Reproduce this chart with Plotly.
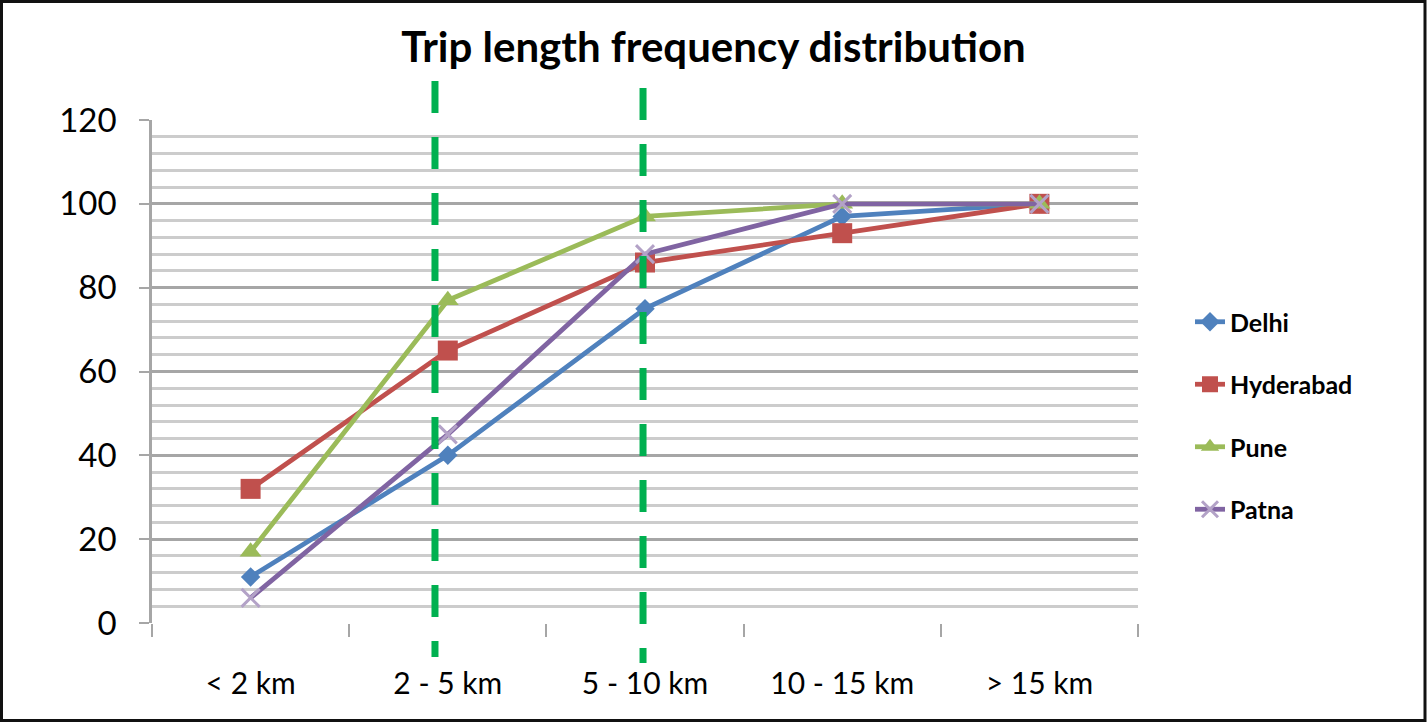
import plotly.graph_objects as go

categories = ["< 2 km", "2 - 5 km", "5 - 10 km", "10 - 15 km", "> 15 km"]
delhi = [11, 40, 75, 97, 100]
hyderabad = [32, 65, 86, 93, 100]
pune = [17, 77, 97, 100, 100]
patna = [6, 45, 88, 100, 100]
y_ticks = [0, 20, 40, 60, 80, 100, 120]
# positions of the green dashed separators, in category units
divider_positions = [0.935, 1.99]

W, H = 1427, 722
L, R, T, B = 152, 1427 - 1138, 120, 722 - 623
pw, ph = W - L - R, H - T - B

series = [
    ("Delhi", delhi, "#4F81BD", dict(symbol="diamond", size=15, color="#4F81BD")),
    ("Hyderabad", hyderabad, "#C0504D", dict(symbol="square", size=20, color="#C0504D")),
    ("Pune", pune, "#9BBB59", dict(symbol="triangle-up", size=19, color="#9BBB59")),
    ("Patna", patna, "#8064A2", dict(symbol="x-thin", size=18, color="#B3A2C7",
                                     line=dict(width=3, color="#B3A2C7"))),
]

fig = go.Figure()
for name, vals, col, mk in series:
    fig.add_trace(go.Scatter(
        x=categories, y=vals, name=name, mode="lines+markers",
        line=dict(color=col, width=4.8), marker=mk, legendgroup=name,
        cliponaxis=False,
    ))

divider_ends = [(81, 657), (88, 663)]  # pixel top/bottom of the dashed separators
shapes = []
for p, (top, bot) in zip(divider_positions, divider_ends):
    xd = (p + 0.5) / len(categories)
    shapes.append(dict(type="line", xref="x domain", yref="paper",
                       x0=xd, x1=xd, y0=(623 - top) / ph, y1=(623 - bot) / ph,
                       line=dict(color="#00B050", width=7, dash="32px,24px")))
# outer border
shapes.append(dict(type="rect", xref="paper", yref="paper",
                   x0=(1.5 - L) / pw, x1=(1425 - L) / pw,
                   y0=(623 - 720.5) / ph, y1=(623 - 1.5) / ph,
                   line=dict(color="#111111", width=3), layer="below"))

fig.update_layout(
    width=W, height=H,
    margin=dict(l=L, r=R, t=T, b=B),
    paper_bgcolor="white", plot_bgcolor="white",
    title=dict(text="<b>Trip length frequency distribution</b>", x=0.5, xref="container",
               xanchor="center", y=(722 - 47) / 722, yanchor="middle",
               font=dict(family="Lato", size=42, color="#000000")),
    font=dict(family="Lato", color="#000000"),
    showlegend=True,
    legend=dict(x=(1190 - L) / pw, xanchor="left", y=(623 - 299) / ph, yanchor="top",
                font=dict(size=25, color="#000000", weight="bold"), tracegroupgap=27,
                traceorder="grouped", bgcolor="rgba(0,0,0,0)"),
    shapes=shapes,
    xaxis=dict(type="category", range=[-0.5, len(categories) - 0.5],
               showgrid=False, tickson="boundaries", ticks="outside", ticklen=13,
               tickwidth=2, tickcolor="#A6A6A6", showline=False,
               tickfont=dict(size=30, color="#000000"), ticklabelstandoff=40,
               zeroline=False),
    yaxis=dict(range=[0, 120], tickvals=y_ticks, showgrid=True, gridcolor="#A6A6A6",
               gridwidth=2.5, ticks="outside", ticklen=10, tickwidth=2, tickcolor="#A6A6A6",
               showline=True, linecolor="#A6A6A6", linewidth=2.5,
               tickfont=dict(size=33, color="#000000"), ticklabelstandoff=16,
               zeroline=False,
               minor=dict(dtick=4, showgrid=True, gridcolor="#CCCCCC", gridwidth=2.5)),
)

fig.write_html("out.html")
